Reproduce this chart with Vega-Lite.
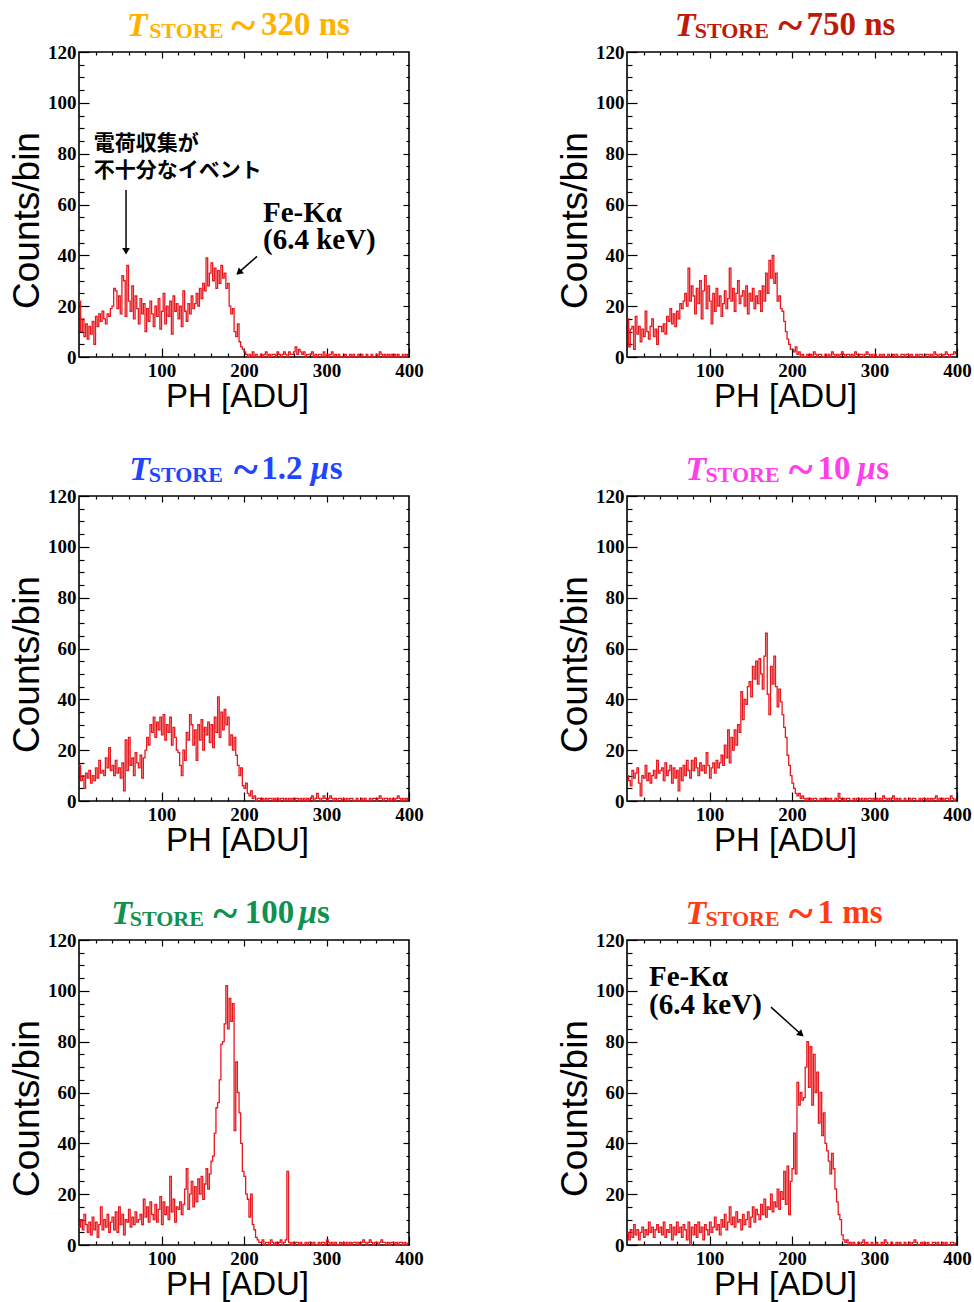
{
"$schema": "https://vega.github.io/schema/vega-lite/v6.json",
"background": "white",
"padding": {"left": 7, "top": 3, "right": 5, "bottom": 5},
"columns": 2,
"spacing": {"row": 139, "column": 218},
"bounds": "flush",
"config": {
 "view": {"stroke": "black", "strokeWidth": 1.6},
 "axis": {"domain": false, "grid": false, "labelFont": "Liberation Serif", "labelFontWeight": "bold", "labelFontSize": 19, "labelColor": "black", "labelFlush": false, "labelOverlap": false, "titleFont": "Liberation Sans", "titleFontWeight": "normal", "titleFontSize": 37, "titleColor": "black", "tickColor": "black", "tickWidth": 1.2},
 "axisBottom": {"titleFontSize": 33}
},
"datasets": {"h": [
{"x":0,"a":22,"b":15,"c":14,"d":10,"e":7,"f":5},
{"x":2,"a":10,"b":4,"c":8,"d":8,"e":10,"f":2},
{"x":4,"a":15,"b":11,"c":10,"d":6,"e":6,"f":6},
{"x":6,"a":8,"b":12,"c":5,"d":12,"e":12,"f":3},
{"x":8,"a":13,"b":3,"c":11,"d":9,"e":8,"f":8},
{"x":10,"a":7,"b":16,"c":9,"d":11,"e":5,"f":4},
{"x":12,"a":12,"b":9,"c":12,"d":13,"e":9,"f":6},
{"x":14,"a":9,"b":12,"c":7,"d":7,"e":4,"f":2},
{"x":16,"a":14,"b":6,"c":10,"d":2,"e":11,"f":5},
{"x":18,"a":5,"b":11,"c":8,"d":10,"e":6,"f":7},
{"x":20,"a":16,"b":8,"c":13,"d":9,"e":9,"f":3},
{"x":22,"a":12,"b":18,"c":9,"d":14,"e":3,"f":6},
{"x":24,"a":17,"b":10,"c":16,"d":8,"e":8,"f":4},
{"x":26,"a":14,"b":7,"c":11,"d":11,"e":15,"f":9},
{"x":28,"a":18,"b":12,"c":12,"d":7,"e":6,"f":5},
{"x":30,"a":15,"b":15,"c":10,"d":10,"e":10,"f":7},
{"x":32,"a":13,"b":8,"c":17,"d":12,"e":7,"f":3},
{"x":34,"a":17,"b":11,"c":13,"d":9,"e":12,"f":6},
{"x":36,"a":16,"b":5,"c":21,"d":16,"e":5,"f":8},
{"x":38,"a":19,"b":12,"c":12,"d":11,"e":9,"f":5},
{"x":40,"a":20,"b":12,"c":14,"d":12,"e":11,"f":7},
{"x":42,"a":27,"b":10,"c":10,"d":13,"e":6,"f":4},
{"x":44,"a":26,"b":13,"c":16,"d":8,"e":13,"f":9},
{"x":46,"a":19,"b":9,"c":11,"d":15,"e":5,"f":3},
{"x":48,"a":24,"b":16,"c":13,"d":10,"e":15,"f":6},
{"x":50,"a":17,"b":14,"c":9,"d":12,"e":8,"f":5},
{"x":52,"a":32,"b":19,"c":15,"d":14,"e":12,"f":8},
{"x":54,"a":30,"b":13,"c":4,"d":7,"e":4,"f":2},
{"x":56,"a":16,"b":17,"c":24,"d":13,"e":10,"f":7},
{"x":58,"a":36,"b":12,"c":12,"d":9,"e":9,"f":4},
{"x":60,"a":22,"b":18,"c":25,"d":12,"e":14,"f":9},
{"x":62,"a":18,"b":15,"c":14,"d":4,"e":7,"f":5},
{"x":64,"a":28,"b":21,"c":17,"d":13,"e":11,"f":7},
{"x":66,"a":15,"b":19,"c":10,"d":8,"e":8,"f":3},
{"x":68,"a":24,"b":22,"c":19,"d":14,"e":13,"f":8},
{"x":70,"a":19,"b":25,"c":15,"d":10,"e":9,"f":6},
{"x":72,"a":13,"b":20,"c":13,"d":16,"e":10,"f":2},
{"x":74,"a":23,"b":35,"c":18,"d":12,"e":12,"f":9},
{"x":76,"a":17,"b":22,"c":9,"d":9,"e":8,"f":0},
{"x":78,"a":21,"b":28,"c":17,"d":16,"e":18,"f":7},
{"x":80,"a":10,"b":24,"c":20,"d":12,"e":11,"f":4},
{"x":82,"a":19,"b":17,"c":25,"d":17,"e":15,"f":8},
{"x":84,"a":14,"b":27,"c":22,"d":13,"e":9,"f":3},
{"x":86,"a":22,"b":21,"c":30,"d":10,"e":17,"f":9},
{"x":88,"a":17,"b":30,"c":27,"d":15,"e":12,"f":5},
{"x":90,"a":12,"b":15,"c":33,"d":12,"e":10,"f":7},
{"x":92,"a":20,"b":26,"c":25,"d":14,"e":16,"f":2},
{"x":94,"a":16,"b":32,"c":31,"d":11,"e":9,"f":8},
{"x":96,"a":23,"b":19,"c":28,"d":19,"e":14,"f":6},
{"x":98,"a":11,"b":28,"c":33,"d":14,"e":19,"f":4},
{"x":100,"a":18,"b":22,"c":26,"d":9,"e":8,"f":9},
{"x":102,"a":25,"b":13,"c":34,"d":13,"e":17,"f":5},
{"x":104,"a":13,"b":25,"c":24,"d":15,"e":12,"f":7},
{"x":106,"a":20,"b":18,"c":30,"d":11,"e":15,"f":11},
{"x":108,"a":16,"b":27,"c":27,"d":16,"e":10,"f":6},
{"x":110,"a":22,"b":20,"c":33,"d":13,"e":27,"f":8},
{"x":112,"a":9,"b":24,"c":22,"d":15,"e":13,"f":4},
{"x":114,"a":24,"b":16,"c":29,"d":18,"e":18,"f":10},
{"x":116,"a":18,"b":21,"c":25,"d":14,"e":9,"f":7},
{"x":118,"a":21,"b":26,"c":20,"d":22,"e":15,"f":12},
{"x":120,"a":15,"b":19,"c":19,"d":17,"e":14,"f":6},
{"x":122,"a":20,"b":23,"c":14,"d":28,"e":17,"f":9},
{"x":124,"a":12,"b":35,"c":10,"d":15,"e":12,"f":15},
{"x":126,"a":26,"b":22,"c":20,"d":25,"e":16,"f":8},
{"x":128,"a":18,"b":27,"c":16,"d":20,"e":22,"f":11},
{"x":130,"a":14,"b":18,"c":27,"d":28,"e":30,"f":7},
{"x":132,"a":21,"b":25,"c":24,"d":22,"e":14,"f":13},
{"x":134,"a":17,"b":30,"c":34,"d":30,"e":20,"f":9},
{"x":136,"a":24,"b":21,"c":30,"d":27,"e":25,"f":10},
{"x":138,"a":19,"b":24,"c":22,"d":43,"e":15,"f":6},
{"x":140,"a":21,"b":26,"c":28,"d":32,"e":23,"f":12},
{"x":142,"a":25,"b":20,"c":16,"d":40,"e":17,"f":8},
{"x":144,"a":20,"b":28,"c":30,"d":38,"e":26,"f":10},
{"x":146,"a":27,"b":17,"c":24,"d":45,"e":20,"f":13},
{"x":148,"a":23,"b":25,"c":32,"d":47,"e":27,"f":7},
{"x":150,"a":29,"b":22,"c":20,"d":41,"e":18,"f":11},
{"x":152,"a":26,"b":27,"c":29,"d":53,"e":24,"f":15},
{"x":154,"a":39,"b":19,"c":26,"d":48,"e":30,"f":9},
{"x":156,"a":28,"b":24,"c":31,"d":55,"e":22,"f":14},
{"x":158,"a":33,"b":21,"c":23,"d":46,"e":28,"f":12},
{"x":160,"a":37,"b":26,"c":30,"d":56,"e":33,"f":10},
{"x":162,"a":30,"b":18,"c":21,"d":50,"e":35,"f":16},
{"x":164,"a":35,"b":28,"c":33,"d":44,"e":44,"f":12},
{"x":166,"a":27,"b":22,"c":27,"d":57,"e":54,"f":18},
{"x":168,"a":34,"b":33,"c":41,"d":66,"e":56,"f":11},
{"x":170,"a":29,"b":25,"c":25,"d":42,"e":65,"f":15},
{"x":172,"a":36,"b":38,"c":35,"d":34,"e":79,"f":14},
{"x":174,"a":31,"b":31,"c":28,"d":53,"e":80,"f":20},
{"x":176,"a":33,"b":40,"c":36,"d":46,"e":87,"f":13},
{"x":178,"a":27,"b":29,"c":30,"d":57,"e":102,"f":17},
{"x":180,"a":29,"b":33,"c":33,"d":45,"e":85,"f":15},
{"x":182,"a":20,"b":22,"c":22,"d":37,"e":97,"f":22},
{"x":184,"a":17,"b":24,"c":26,"d":44,"e":88,"f":14},
{"x":186,"a":19,"b":19,"c":20,"d":39,"e":95,"f":21},
{"x":188,"a":10,"b":18,"c":25,"d":34,"e":45,"f":18},
{"x":190,"a":8,"b":14,"c":18,"d":29,"e":72,"f":29},
{"x":192,"a":13,"b":10,"c":14,"d":25,"e":60,"f":16},
{"x":194,"a":6,"b":7,"c":10,"d":18,"e":52,"f":31},
{"x":196,"a":4,"b":5,"c":13,"d":14,"e":40,"f":12},
{"x":198,"a":3,"b":3,"c":6,"d":10,"e":29,"f":25},
{"x":200,"a":2,"b":3,"c":5,"d":7,"e":27,"f":30},
{"x":202,"a":1,"b":2,"c":7,"d":5,"e":20,"f":44},
{"x":204,"a":0,"b":4,"c":3,"d":3,"e":18,"f":28},
{"x":206,"a":1,"b":1,"c":2,"d":2,"e":11,"f":64},
{"x":208,"a":0,"b":2,"c":4,"d":3,"e":20,"f":55},
{"x":210,"a":2,"b":0,"c":1,"d":1,"e":8,"f":60},
{"x":212,"a":0,"b":1,"c":2,"d":2,"e":6,"f":57},
{"x":214,"a":1,"b":0,"c":0,"d":1,"e":3,"f":58},
{"x":216,"a":0,"b":0,"c":1,"d":0,"e":2,"f":70},
{"x":218,"a":0,"b":1,"c":1,"d":1,"e":1,"f":80},
{"x":220,"a":1,"b":0,"c":0,"d":0,"e":1,"f":62},
{"x":222,"a":0,"b":1,"c":1,"d":1,"e":2,"f":78},
{"x":224,"a":1,"b":0,"c":0,"d":0,"e":0,"f":55},
{"x":226,"a":2,"b":2,"c":1,"d":1,"e":1,"f":75},
{"x":228,"a":0,"b":1,"c":0,"d":1,"e":1,"f":60},
{"x":230,"a":1,"b":0,"c":1,"d":0,"e":0,"f":68},
{"x":232,"a":0,"b":1,"c":1,"d":0,"e":2,"f":48},
{"x":234,"a":1,"b":1,"c":0,"d":1,"e":1,"f":60},
{"x":236,"a":1,"b":0,"c":1,"d":0,"e":0,"f":43},
{"x":238,"a":0,"b":0,"c":0,"d":1,"e":1,"f":52},
{"x":240,"a":2,"b":1,"c":1,"d":0,"e":0,"f":40},
{"x":242,"a":1,"b":0,"c":0,"d":1,"e":1,"f":37},
{"x":244,"a":0,"b":1,"c":1,"d":0,"e":2,"f":33},
{"x":246,"a":1,"b":0,"c":1,"d":1,"e":0,"f":28},
{"x":248,"a":2,"b":2,"c":0,"d":0,"e":1,"f":36},
{"x":250,"a":1,"b":1,"c":1,"d":0,"e":2,"f":30},
{"x":252,"a":0,"b":0,"c":0,"d":1,"e":29,"f":22},
{"x":254,"a":2,"b":1,"c":1,"d":0,"e":1,"f":17},
{"x":256,"a":1,"b":0,"c":0,"d":3,"e":0,"f":12},
{"x":258,"a":1,"b":1,"c":1,"d":1,"e":1,"f":10},
{"x":260,"a":2,"b":2,"c":0,"d":0,"e":0,"f":4},
{"x":262,"a":4,"b":1,"c":1,"d":1,"e":1,"f":2},
{"x":264,"a":1,"b":0,"c":1,"d":0,"e":1,"f":1},
{"x":266,"a":3,"b":1,"c":0,"d":1,"e":0,"f":2},
{"x":268,"a":2,"b":1,"c":1,"d":1,"e":1,"f":0},
{"x":270,"a":1,"b":0,"c":0,"d":0,"e":0,"f":1},
{"x":272,"a":2,"b":1,"c":1,"d":0,"e":0,"f":0},
{"x":274,"a":0,"b":0,"c":0,"d":1,"e":1,"f":1},
{"x":276,"a":1,"b":2,"c":1,"d":0,"e":0,"f":0},
{"x":278,"a":1,"b":1,"c":0,"d":1,"e":1,"f":0},
{"x":280,"a":1,"b":0,"c":1,"d":1,"e":1,"f":1},
{"x":282,"a":2,"b":1,"c":2,"d":0,"e":0,"f":0},
{"x":284,"a":0,"b":1,"c":0,"d":1,"e":1,"f":1},
{"x":286,"a":1,"b":0,"c":1,"d":0,"e":0,"f":2},
{"x":288,"a":0,"b":1,"c":3,"d":1,"e":0,"f":0},
{"x":290,"a":1,"b":2,"c":1,"d":0,"e":1,"f":1},
{"x":292,"a":1,"b":1,"c":0,"d":1,"e":0,"f":0},
{"x":294,"a":0,"b":0,"c":1,"d":1,"e":1,"f":0},
{"x":296,"a":2,"b":1,"c":2,"d":0,"e":1,"f":1},
{"x":298,"a":0,"b":0,"c":1,"d":1,"e":0,"f":0},
{"x":300,"a":1,"b":1,"c":0,"d":0,"e":2,"f":0},
{"x":302,"a":0,"b":0,"c":1,"d":1,"e":1,"f":1},
{"x":304,"a":1,"b":0,"c":2,"d":0,"e":0,"f":0},
{"x":306,"a":2,"b":1,"c":1,"d":1,"e":1,"f":0},
{"x":308,"a":0,"b":0,"c":0,"d":0,"e":0,"f":1},
{"x":310,"a":1,"b":1,"c":1,"d":2,"e":1,"f":0},
{"x":312,"a":0,"b":0,"c":0,"d":1,"e":0,"f":2},
{"x":314,"a":1,"b":0,"c":1,"d":0,"e":0,"f":1},
{"x":316,"a":0,"b":1,"c":1,"d":1,"e":1,"f":0},
{"x":318,"a":0,"b":0,"c":0,"d":0,"e":0,"f":0},
{"x":320,"a":0,"b":0,"c":1,"d":1,"e":1,"f":1},
{"x":322,"a":1,"b":1,"c":0,"d":2,"e":0,"f":0},
{"x":324,"a":0,"b":0,"c":1,"d":0,"e":1,"f":0},
{"x":326,"a":0,"b":1,"c":0,"d":1,"e":0,"f":1},
{"x":328,"a":1,"b":0,"c":1,"d":0,"e":1,"f":0},
{"x":330,"a":0,"b":0,"c":1,"d":1,"e":0,"f":1},
{"x":332,"a":1,"b":1,"c":0,"d":0,"e":1,"f":0},
{"x":334,"a":0,"b":1,"c":0,"d":0,"e":1,"f":0},
{"x":336,"a":0,"b":0,"c":1,"d":1,"e":0,"f":1},
{"x":338,"a":1,"b":1,"c":0,"d":0,"e":1,"f":0},
{"x":340,"a":0,"b":1,"c":0,"d":0,"e":0,"f":0},
{"x":342,"a":1,"b":0,"c":1,"d":1,"e":1,"f":1},
{"x":344,"a":0,"b":1,"c":0,"d":0,"e":2,"f":0},
{"x":346,"a":0,"b":0,"c":1,"d":1,"e":1,"f":1},
{"x":348,"a":1,"b":0,"c":0,"d":1,"e":0,"f":2},
{"x":350,"a":0,"b":1,"c":0,"d":0,"e":1,"f":1},
{"x":352,"a":0,"b":0,"c":1,"d":0,"e":2,"f":0},
{"x":354,"a":1,"b":1,"c":0,"d":1,"e":1,"f":0},
{"x":356,"a":0,"b":1,"c":1,"d":0,"e":0,"f":1},
{"x":358,"a":0,"b":0,"c":1,"d":1,"e":1,"f":0},
{"x":360,"a":1,"b":0,"c":0,"d":1,"e":1,"f":1},
{"x":362,"a":0,"b":1,"c":1,"d":0,"e":0,"f":0},
{"x":364,"a":2,"b":1,"c":2,"d":1,"e":1,"f":1},
{"x":366,"a":1,"b":0,"c":1,"d":0,"e":2,"f":0},
{"x":368,"a":0,"b":1,"c":0,"d":1,"e":1,"f":0},
{"x":370,"a":1,"b":0,"c":1,"d":0,"e":1,"f":1},
{"x":372,"a":0,"b":2,"c":1,"d":1,"e":0,"f":1},
{"x":374,"a":1,"b":1,"c":0,"d":2,"e":1,"f":0},
{"x":376,"a":0,"b":0,"c":1,"d":0,"e":0,"f":1},
{"x":378,"a":1,"b":1,"c":0,"d":1,"e":1,"f":0},
{"x":380,"a":0,"b":1,"c":1,"d":0,"e":1,"f":0},
{"x":382,"a":1,"b":0,"c":0,"d":1,"e":0,"f":1},
{"x":384,"a":0,"b":1,"c":1,"d":0,"e":1,"f":0},
{"x":386,"a":1,"b":2,"c":2,"d":1,"e":0,"f":1},
{"x":388,"a":0,"b":1,"c":1,"d":1,"e":1,"f":0},
{"x":390,"a":0,"b":0,"c":0,"d":0,"e":1,"f":0},
{"x":392,"a":1,"b":1,"c":1,"d":2,"e":0,"f":1},
{"x":394,"a":0,"b":1,"c":0,"d":1,"e":1,"f":1},
{"x":396,"a":1,"b":2,"c":1,"d":0,"e":0,"f":0},
{"x":398,"a":0,"b":1,"c":0,"d":1,"e":1,"f":1}
]},
"concat": [
 {"width": 330, "height": 305, "resolve": {"axis": {"x": "independent", "y": "independent"}},
  "layer": [
   {"data": {"name": "h"}, "mark": {"type": "line", "interpolate": "step-after", "color": "#E8181E", "strokeWidth": 1.3},
    "encoding": {
     "x": {"field": "x", "type": "quantitative", "scale": {"domain": [0, 400]}, "axis": {"orient": "bottom", "values": [100, 200, 300, 400], "tickSize": -9, "labelPadding": 13, "title": "PH [ADU]", "titleX": 158, "titlePadding": 0}},
     "y": {"field": "a", "type": "quantitative", "scale": {"domain": [0, 120]}, "axis": {"orient": "left", "values": [0, 20, 40, 60, 80, 100, 120], "tickSize": -10, "labelPadding": 13, "title": "Counts/bin", "titleY": 168, "titlePadding": 1}}}},
   {"data": {"name": "h"}, "mark": {"type": "line", "opacity": 0},
    "encoding": {
     "x": {"field": "x", "type": "quantitative", "axis": {"orient": "bottom", "values": [20, 40, 60, 80, 120, 140, 160, 180, 220, 240, 260, 280, 320, 340, 360, 380], "tickSize": -4, "labels": false, "title": null}},
     "y": {"field": "a", "type": "quantitative", "axis": {"orient": "left", "values": [5, 10, 15, 25, 30, 35, 45, 50, 55, 65, 70, 75, 85, 90, 95, 105, 110, 115], "tickSize": -5, "labels": false, "title": null}}}},
   {"data": {"name": "h"}, "mark": {"type": "line", "opacity": 0},
    "encoding": {
     "x": {"field": "x", "type": "quantitative", "axis": {"orient": "top", "values": [100, 200, 300], "tickSize": -6, "labels": false, "title": null}},
     "y": {"field": "a", "type": "quantitative", "axis": {"orient": "right", "values": [20, 40, 60, 80, 100], "tickSize": -6, "labels": false, "title": null}}}},
   {"data": {"name": "h"}, "mark": {"type": "line", "opacity": 0},
    "encoding": {
     "x": {"field": "x", "type": "quantitative", "axis": {"orient": "top", "values": [20, 40, 60, 80, 120, 140, 160, 180, 220, 240, 260, 280, 320, 340, 360, 380], "tickSize": -3, "labels": false, "title": null}},
     "y": {"field": "a", "type": "quantitative", "axis": {"orient": "right", "values": [5, 10, 15, 25, 30, 35, 45, 50, 55, 65, 70, 75, 85, 90, 95, 105, 110, 115], "tickSize": -3, "labels": false, "title": null}}}},
   {"data": {"values": [{}]}, "mark": {"type": "text", "font": "Liberation Serif", "fontWeight": "bold", "fontStyle": "italic", "fontSize": 34, "align": "left", "baseline": "alphabetic", "color": "#FFB300"},
    "encoding": {"x": {"datum": 58, "type": "quantitative", "axis": null}, "y": {"datum": 126.3, "type": "quantitative", "axis": null}, "text": {"value": "T"}}},
   {"data": {"values": [{}]}, "mark": {"type": "text", "font": "Liberation Serif", "fontWeight": "bold", "fontSize": 22, "align": "left", "baseline": "alphabetic", "color": "#FFB300"},
    "encoding": {"x": {"datum": 85, "type": "quantitative", "axis": null}, "y": {"datum": 125.4, "type": "quantitative", "axis": null}, "text": {"value": "STORE"}}},
   {"data": {"values": [{}]}, "mark": {"type": "text", "font": "Liberation Serif", "fontWeight": "bold", "fontSize": 46, "align": "left", "baseline": "alphabetic", "color": "#FFB300"},
    "encoding": {"x": {"datum": 184.5, "type": "quantitative", "axis": null}, "y": {"datum": 124.3, "type": "quantitative", "axis": null}, "text": {"value": "~"}}},
   {"data": {"values": [{}]}, "mark": {"type": "text", "font": "Liberation Serif", "fontWeight": "bold", "fontSize": 33, "align": "left", "baseline": "alphabetic", "color": "#FFB300"},
    "encoding": {"x": {"datum": 220.6, "type": "quantitative", "axis": null}, "y": {"datum": 126.6, "type": "quantitative", "axis": null}, "text": {"value": "320 ns"}}},
   {"data": {"values": [{}]}, "mark": {"type": "text", "font": "Noto Sans CJK JP", "fontWeight": "bold", "fontSize": 21, "lineHeight": 26.6, "align": "left", "baseline": "top", "color": "black"},
    "encoding": {"x": {"datum": 18, "type": "quantitative", "axis": null}, "y": {"datum": 88, "type": "quantitative", "axis": null}, "text": {"value": ["電荷収集が", "不十分なイベント"]}}},
   {"data": {"values": [{}]}, "mark": {"type": "rule", "color": "black", "strokeWidth": 1.5},
    "encoding": {"x": {"datum": 57, "type": "quantitative", "axis": null}, "y": {"datum": 65.7, "type": "quantitative", "axis": null}, "y2": {"datum": 41}}},
   {"data": {"values": [{}]}, "mark": {"type": "point", "shape": "triangle-down", "filled": true, "color": "black", "opacity": 1, "size": 60},
    "encoding": {"x": {"datum": 57, "type": "quantitative", "axis": null}, "y": {"datum": 41.6, "type": "quantitative", "axis": null}}},
   {"data": {"values": [{}]}, "mark": {"type": "text", "font": "Liberation Serif", "fontWeight": "bold", "fontSize": 29, "lineHeight": 27, "align": "left", "baseline": "top", "color": "black"},
    "encoding": {"x": {"datum": 223, "type": "quantitative", "axis": null}, "y": {"datum": 62, "type": "quantitative", "axis": null}, "text": {"value": ["Fe-Kα", "(6.4 keV)"]}}},
   {"data": {"values": [{}]}, "mark": {"type": "rule", "color": "black", "strokeWidth": 1.5},
    "encoding": {"x": {"datum": 215.8, "type": "quantitative", "axis": null}, "y": {"datum": 39.6, "type": "quantitative", "axis": null}, "x2": {"datum": 192}, "y2": {"datum": 32.8}}},
   {"data": {"values": [{}]}, "mark": {"type": "point", "shape": "triangle", "angle": 228, "filled": true, "color": "black", "opacity": 1, "size": 60},
    "encoding": {"x": {"datum": 194.8, "type": "quantitative", "axis": null}, "y": {"datum": 33.5, "type": "quantitative", "axis": null}}}
  ]},
 {"width": 330, "height": 305, "resolve": {"axis": {"x": "independent", "y": "independent"}},
  "layer": [
   {"data": {"name": "h"}, "mark": {"type": "line", "interpolate": "step-after", "color": "#E8181E", "strokeWidth": 1.3},
    "encoding": {
     "x": {"field": "x", "type": "quantitative", "scale": {"domain": [0, 400]}, "axis": {"orient": "bottom", "values": [100, 200, 300, 400], "tickSize": -9, "labelPadding": 13, "title": "PH [ADU]", "titleX": 158, "titlePadding": 0}},
     "y": {"field": "b", "type": "quantitative", "scale": {"domain": [0, 120]}, "axis": {"orient": "left", "values": [0, 20, 40, 60, 80, 100, 120], "tickSize": -10, "labelPadding": 13, "title": "Counts/bin", "titleY": 168, "titlePadding": 1}}}},
   {"data": {"name": "h"}, "mark": {"type": "line", "opacity": 0},
    "encoding": {
     "x": {"field": "x", "type": "quantitative", "axis": {"orient": "bottom", "values": [20, 40, 60, 80, 120, 140, 160, 180, 220, 240, 260, 280, 320, 340, 360, 380], "tickSize": -4, "labels": false, "title": null}},
     "y": {"field": "b", "type": "quantitative", "axis": {"orient": "left", "values": [5, 10, 15, 25, 30, 35, 45, 50, 55, 65, 70, 75, 85, 90, 95, 105, 110, 115], "tickSize": -5, "labels": false, "title": null}}}},
   {"data": {"name": "h"}, "mark": {"type": "line", "opacity": 0},
    "encoding": {
     "x": {"field": "x", "type": "quantitative", "axis": {"orient": "top", "values": [100, 200, 300], "tickSize": -6, "labels": false, "title": null}},
     "y": {"field": "b", "type": "quantitative", "axis": {"orient": "right", "values": [20, 40, 60, 80, 100], "tickSize": -6, "labels": false, "title": null}}}},
   {"data": {"name": "h"}, "mark": {"type": "line", "opacity": 0},
    "encoding": {
     "x": {"field": "x", "type": "quantitative", "axis": {"orient": "top", "values": [20, 40, 60, 80, 120, 140, 160, 180, 220, 240, 260, 280, 320, 340, 360, 380], "tickSize": -3, "labels": false, "title": null}},
     "y": {"field": "b", "type": "quantitative", "axis": {"orient": "right", "values": [5, 10, 15, 25, 30, 35, 45, 50, 55, 65, 70, 75, 85, 90, 95, 105, 110, 115], "tickSize": -3, "labels": false, "title": null}}}},
   {"data": {"values": [{}]}, "mark": {"type": "text", "font": "Liberation Serif", "fontWeight": "bold", "fontStyle": "italic", "fontSize": 34, "align": "left", "baseline": "alphabetic", "color": "#BE1A08"},
    "encoding": {"x": {"datum": 58, "type": "quantitative", "axis": null}, "y": {"datum": 126.3, "type": "quantitative", "axis": null}, "text": {"value": "T"}}},
   {"data": {"values": [{}]}, "mark": {"type": "text", "font": "Liberation Serif", "fontWeight": "bold", "fontSize": 22, "align": "left", "baseline": "alphabetic", "color": "#BE1A08"},
    "encoding": {"x": {"datum": 82, "type": "quantitative", "axis": null}, "y": {"datum": 125.4, "type": "quantitative", "axis": null}, "text": {"value": "STORE"}}},
   {"data": {"values": [{}]}, "mark": {"type": "text", "font": "Liberation Serif", "fontWeight": "bold", "fontSize": 46, "align": "left", "baseline": "alphabetic", "color": "#BE1A08"},
    "encoding": {"x": {"datum": 183.2, "type": "quantitative", "axis": null}, "y": {"datum": 124.3, "type": "quantitative", "axis": null}, "text": {"value": "~"}}},
   {"data": {"values": [{}]}, "mark": {"type": "text", "font": "Liberation Serif", "fontWeight": "bold", "fontSize": 33, "align": "left", "baseline": "alphabetic", "color": "#BE1A08"},
    "encoding": {"x": {"datum": 217.5, "type": "quantitative", "axis": null}, "y": {"datum": 126.6, "type": "quantitative", "axis": null}, "text": {"value": "750 ns"}}}
  ]},
 {"width": 330, "height": 305, "resolve": {"axis": {"x": "independent", "y": "independent"}},
  "layer": [
   {"data": {"name": "h"}, "mark": {"type": "line", "interpolate": "step-after", "color": "#E8181E", "strokeWidth": 1.3},
    "encoding": {
     "x": {"field": "x", "type": "quantitative", "scale": {"domain": [0, 400]}, "axis": {"orient": "bottom", "values": [100, 200, 300, 400], "tickSize": -9, "labelPadding": 13, "title": "PH [ADU]", "titleX": 158, "titlePadding": 0}},
     "y": {"field": "c", "type": "quantitative", "scale": {"domain": [0, 120]}, "axis": {"orient": "left", "values": [0, 20, 40, 60, 80, 100, 120], "tickSize": -10, "labelPadding": 13, "title": "Counts/bin", "titleY": 168, "titlePadding": 1}}}},
   {"data": {"name": "h"}, "mark": {"type": "line", "opacity": 0},
    "encoding": {
     "x": {"field": "x", "type": "quantitative", "axis": {"orient": "bottom", "values": [20, 40, 60, 80, 120, 140, 160, 180, 220, 240, 260, 280, 320, 340, 360, 380], "tickSize": -4, "labels": false, "title": null}},
     "y": {"field": "c", "type": "quantitative", "axis": {"orient": "left", "values": [5, 10, 15, 25, 30, 35, 45, 50, 55, 65, 70, 75, 85, 90, 95, 105, 110, 115], "tickSize": -5, "labels": false, "title": null}}}},
   {"data": {"name": "h"}, "mark": {"type": "line", "opacity": 0},
    "encoding": {
     "x": {"field": "x", "type": "quantitative", "axis": {"orient": "top", "values": [100, 200, 300], "tickSize": -6, "labels": false, "title": null}},
     "y": {"field": "c", "type": "quantitative", "axis": {"orient": "right", "values": [20, 40, 60, 80, 100], "tickSize": -6, "labels": false, "title": null}}}},
   {"data": {"name": "h"}, "mark": {"type": "line", "opacity": 0},
    "encoding": {
     "x": {"field": "x", "type": "quantitative", "axis": {"orient": "top", "values": [20, 40, 60, 80, 120, 140, 160, 180, 220, 240, 260, 280, 320, 340, 360, 380], "tickSize": -3, "labels": false, "title": null}},
     "y": {"field": "c", "type": "quantitative", "axis": {"orient": "right", "values": [5, 10, 15, 25, 30, 35, 45, 50, 55, 65, 70, 75, 85, 90, 95, 105, 110, 115], "tickSize": -3, "labels": false, "title": null}}}},
   {"data": {"values": [{}]}, "mark": {"type": "text", "font": "Liberation Serif", "fontWeight": "bold", "fontStyle": "italic", "fontSize": 34, "align": "left", "baseline": "alphabetic", "color": "#1E46FF"},
    "encoding": {"x": {"datum": 61, "type": "quantitative", "axis": null}, "y": {"datum": 126.3, "type": "quantitative", "axis": null}, "text": {"value": "T"}}},
   {"data": {"values": [{}]}, "mark": {"type": "text", "font": "Liberation Serif", "fontWeight": "bold", "fontSize": 22, "align": "left", "baseline": "alphabetic", "color": "#1E46FF"},
    "encoding": {"x": {"datum": 84.5, "type": "quantitative", "axis": null}, "y": {"datum": 125.4, "type": "quantitative", "axis": null}, "text": {"value": "STORE"}}},
   {"data": {"values": [{}]}, "mark": {"type": "text", "font": "Liberation Serif", "fontWeight": "bold", "fontSize": 46, "align": "left", "baseline": "alphabetic", "color": "#1E46FF"},
    "encoding": {"x": {"datum": 187.7, "type": "quantitative", "axis": null}, "y": {"datum": 124.3, "type": "quantitative", "axis": null}, "text": {"value": "~"}}},
   {"data": {"values": [{}]}, "mark": {"type": "text", "font": "Liberation Serif", "fontWeight": "bold", "fontSize": 33, "align": "left", "baseline": "alphabetic", "color": "#1E46FF"},
    "encoding": {"x": {"datum": 221, "type": "quantitative", "axis": null}, "y": {"datum": 126.6, "type": "quantitative", "axis": null}, "text": {"value": "1.2"}}},
   {"data": {"values": [{}]}, "mark": {"type": "text", "font": "Liberation Serif", "fontWeight": "bold", "fontStyle": "italic", "fontSize": 33, "align": "left", "baseline": "alphabetic", "color": "#1E46FF"},
    "encoding": {"x": {"datum": 281, "type": "quantitative", "axis": null}, "y": {"datum": 126.6, "type": "quantitative", "axis": null}, "text": {"value": "μ"}}},
   {"data": {"values": [{}]}, "mark": {"type": "text", "font": "Liberation Serif", "fontWeight": "bold", "fontSize": 33, "align": "left", "baseline": "alphabetic", "color": "#1E46FF"},
    "encoding": {"x": {"datum": 304, "type": "quantitative", "axis": null}, "y": {"datum": 126.6, "type": "quantitative", "axis": null}, "text": {"value": "s"}}}
  ]},
 {"width": 330, "height": 305, "resolve": {"axis": {"x": "independent", "y": "independent"}},
  "layer": [
   {"data": {"name": "h"}, "mark": {"type": "line", "interpolate": "step-after", "color": "#E8181E", "strokeWidth": 1.3},
    "encoding": {
     "x": {"field": "x", "type": "quantitative", "scale": {"domain": [0, 400]}, "axis": {"orient": "bottom", "values": [100, 200, 300, 400], "tickSize": -9, "labelPadding": 13, "title": "PH [ADU]", "titleX": 158, "titlePadding": 0}},
     "y": {"field": "d", "type": "quantitative", "scale": {"domain": [0, 120]}, "axis": {"orient": "left", "values": [0, 20, 40, 60, 80, 100, 120], "tickSize": -10, "labelPadding": 13, "title": "Counts/bin", "titleY": 168, "titlePadding": 1}}}},
   {"data": {"name": "h"}, "mark": {"type": "line", "opacity": 0},
    "encoding": {
     "x": {"field": "x", "type": "quantitative", "axis": {"orient": "bottom", "values": [20, 40, 60, 80, 120, 140, 160, 180, 220, 240, 260, 280, 320, 340, 360, 380], "tickSize": -4, "labels": false, "title": null}},
     "y": {"field": "d", "type": "quantitative", "axis": {"orient": "left", "values": [5, 10, 15, 25, 30, 35, 45, 50, 55, 65, 70, 75, 85, 90, 95, 105, 110, 115], "tickSize": -5, "labels": false, "title": null}}}},
   {"data": {"name": "h"}, "mark": {"type": "line", "opacity": 0},
    "encoding": {
     "x": {"field": "x", "type": "quantitative", "axis": {"orient": "top", "values": [100, 200, 300], "tickSize": -6, "labels": false, "title": null}},
     "y": {"field": "d", "type": "quantitative", "axis": {"orient": "right", "values": [20, 40, 60, 80, 100], "tickSize": -6, "labels": false, "title": null}}}},
   {"data": {"name": "h"}, "mark": {"type": "line", "opacity": 0},
    "encoding": {
     "x": {"field": "x", "type": "quantitative", "axis": {"orient": "top", "values": [20, 40, 60, 80, 120, 140, 160, 180, 220, 240, 260, 280, 320, 340, 360, 380], "tickSize": -3, "labels": false, "title": null}},
     "y": {"field": "d", "type": "quantitative", "axis": {"orient": "right", "values": [5, 10, 15, 25, 30, 35, 45, 50, 55, 65, 70, 75, 85, 90, 95, 105, 110, 115], "tickSize": -3, "labels": false, "title": null}}}},
   {"data": {"values": [{}]}, "mark": {"type": "text", "font": "Liberation Serif", "fontWeight": "bold", "fontStyle": "italic", "fontSize": 34, "align": "left", "baseline": "alphabetic", "color": "#FF40E8"},
    "encoding": {"x": {"datum": 71, "type": "quantitative", "axis": null}, "y": {"datum": 126.3, "type": "quantitative", "axis": null}, "text": {"value": "T"}}},
   {"data": {"values": [{}]}, "mark": {"type": "text", "font": "Liberation Serif", "fontWeight": "bold", "fontSize": 22, "align": "left", "baseline": "alphabetic", "color": "#FF40E8"},
    "encoding": {"x": {"datum": 95, "type": "quantitative", "axis": null}, "y": {"datum": 125.4, "type": "quantitative", "axis": null}, "text": {"value": "STORE"}}},
   {"data": {"values": [{}]}, "mark": {"type": "text", "font": "Liberation Serif", "fontWeight": "bold", "fontSize": 46, "align": "left", "baseline": "alphabetic", "color": "#FF40E8"},
    "encoding": {"x": {"datum": 196, "type": "quantitative", "axis": null}, "y": {"datum": 124.3, "type": "quantitative", "axis": null}, "text": {"value": "~"}}},
   {"data": {"values": [{}]}, "mark": {"type": "text", "font": "Liberation Serif", "fontWeight": "bold", "fontSize": 33, "align": "left", "baseline": "alphabetic", "color": "#FF40E8"},
    "encoding": {"x": {"datum": 231, "type": "quantitative", "axis": null}, "y": {"datum": 126.6, "type": "quantitative", "axis": null}, "text": {"value": "10"}}},
   {"data": {"values": [{}]}, "mark": {"type": "text", "font": "Liberation Serif", "fontWeight": "bold", "fontStyle": "italic", "fontSize": 33, "align": "left", "baseline": "alphabetic", "color": "#FF40E8"},
    "encoding": {"x": {"datum": 279.5, "type": "quantitative", "axis": null}, "y": {"datum": 126.6, "type": "quantitative", "axis": null}, "text": {"value": "μ"}}},
   {"data": {"values": [{}]}, "mark": {"type": "text", "font": "Liberation Serif", "fontWeight": "bold", "fontSize": 33, "align": "left", "baseline": "alphabetic", "color": "#FF40E8"},
    "encoding": {"x": {"datum": 302, "type": "quantitative", "axis": null}, "y": {"datum": 126.6, "type": "quantitative", "axis": null}, "text": {"value": "s"}}}
  ]},
 {"width": 330, "height": 305, "resolve": {"axis": {"x": "independent", "y": "independent"}},
  "layer": [
   {"data": {"name": "h"}, "mark": {"type": "line", "interpolate": "step-after", "color": "#E8181E", "strokeWidth": 1.3},
    "encoding": {
     "x": {"field": "x", "type": "quantitative", "scale": {"domain": [0, 400]}, "axis": {"orient": "bottom", "values": [100, 200, 300, 400], "tickSize": -9, "labelPadding": 13, "title": "PH [ADU]", "titleX": 158, "titlePadding": 0}},
     "y": {"field": "e", "type": "quantitative", "scale": {"domain": [0, 120]}, "axis": {"orient": "left", "values": [0, 20, 40, 60, 80, 100, 120], "tickSize": -10, "labelPadding": 13, "title": "Counts/bin", "titleY": 168, "titlePadding": 1}}}},
   {"data": {"name": "h"}, "mark": {"type": "line", "opacity": 0},
    "encoding": {
     "x": {"field": "x", "type": "quantitative", "axis": {"orient": "bottom", "values": [20, 40, 60, 80, 120, 140, 160, 180, 220, 240, 260, 280, 320, 340, 360, 380], "tickSize": -4, "labels": false, "title": null}},
     "y": {"field": "e", "type": "quantitative", "axis": {"orient": "left", "values": [5, 10, 15, 25, 30, 35, 45, 50, 55, 65, 70, 75, 85, 90, 95, 105, 110, 115], "tickSize": -5, "labels": false, "title": null}}}},
   {"data": {"name": "h"}, "mark": {"type": "line", "opacity": 0},
    "encoding": {
     "x": {"field": "x", "type": "quantitative", "axis": {"orient": "top", "values": [100, 200, 300], "tickSize": -6, "labels": false, "title": null}},
     "y": {"field": "e", "type": "quantitative", "axis": {"orient": "right", "values": [20, 40, 60, 80, 100], "tickSize": -6, "labels": false, "title": null}}}},
   {"data": {"name": "h"}, "mark": {"type": "line", "opacity": 0},
    "encoding": {
     "x": {"field": "x", "type": "quantitative", "axis": {"orient": "top", "values": [20, 40, 60, 80, 120, 140, 160, 180, 220, 240, 260, 280, 320, 340, 360, 380], "tickSize": -3, "labels": false, "title": null}},
     "y": {"field": "e", "type": "quantitative", "axis": {"orient": "right", "values": [5, 10, 15, 25, 30, 35, 45, 50, 55, 65, 70, 75, 85, 90, 95, 105, 110, 115], "tickSize": -3, "labels": false, "title": null}}}},
   {"data": {"values": [{}]}, "mark": {"type": "text", "font": "Liberation Serif", "fontWeight": "bold", "fontStyle": "italic", "fontSize": 34, "align": "left", "baseline": "alphabetic", "color": "#0F9150"},
    "encoding": {"x": {"datum": 39, "type": "quantitative", "axis": null}, "y": {"datum": 126.3, "type": "quantitative", "axis": null}, "text": {"value": "T"}}},
   {"data": {"values": [{}]}, "mark": {"type": "text", "font": "Liberation Serif", "fontWeight": "bold", "fontSize": 22, "align": "left", "baseline": "alphabetic", "color": "#0F9150"},
    "encoding": {"x": {"datum": 61.5, "type": "quantitative", "axis": null}, "y": {"datum": 125.4, "type": "quantitative", "axis": null}, "text": {"value": "STORE"}}},
   {"data": {"values": [{}]}, "mark": {"type": "text", "font": "Liberation Serif", "fontWeight": "bold", "fontSize": 46, "align": "left", "baseline": "alphabetic", "color": "#0F9150"},
    "encoding": {"x": {"datum": 162.6, "type": "quantitative", "axis": null}, "y": {"datum": 124.3, "type": "quantitative", "axis": null}, "text": {"value": "~"}}},
   {"data": {"values": [{}]}, "mark": {"type": "text", "font": "Liberation Serif", "fontWeight": "bold", "fontSize": 33, "align": "left", "baseline": "alphabetic", "color": "#0F9150"},
    "encoding": {"x": {"datum": 200.8, "type": "quantitative", "axis": null}, "y": {"datum": 126.6, "type": "quantitative", "axis": null}, "text": {"value": "100"}}},
   {"data": {"values": [{}]}, "mark": {"type": "text", "font": "Liberation Serif", "fontWeight": "bold", "fontStyle": "italic", "fontSize": 33, "align": "left", "baseline": "alphabetic", "color": "#0F9150"},
    "encoding": {"x": {"datum": 266.5, "type": "quantitative", "axis": null}, "y": {"datum": 126.6, "type": "quantitative", "axis": null}, "text": {"value": "μ"}}},
   {"data": {"values": [{}]}, "mark": {"type": "text", "font": "Liberation Serif", "fontWeight": "bold", "fontSize": 33, "align": "left", "baseline": "alphabetic", "color": "#0F9150"},
    "encoding": {"x": {"datum": 288.6, "type": "quantitative", "axis": null}, "y": {"datum": 126.6, "type": "quantitative", "axis": null}, "text": {"value": "s"}}}
  ]},
 {"width": 330, "height": 305, "resolve": {"axis": {"x": "independent", "y": "independent"}},
  "layer": [
   {"data": {"name": "h"}, "mark": {"type": "line", "interpolate": "step-after", "color": "#E8181E", "strokeWidth": 1.3},
    "encoding": {
     "x": {"field": "x", "type": "quantitative", "scale": {"domain": [0, 400]}, "axis": {"orient": "bottom", "values": [100, 200, 300, 400], "tickSize": -9, "labelPadding": 13, "title": "PH [ADU]", "titleX": 158, "titlePadding": 0}},
     "y": {"field": "f", "type": "quantitative", "scale": {"domain": [0, 120]}, "axis": {"orient": "left", "values": [0, 20, 40, 60, 80, 100, 120], "tickSize": -10, "labelPadding": 13, "title": "Counts/bin", "titleY": 168, "titlePadding": 1}}}},
   {"data": {"name": "h"}, "mark": {"type": "line", "opacity": 0},
    "encoding": {
     "x": {"field": "x", "type": "quantitative", "axis": {"orient": "bottom", "values": [20, 40, 60, 80, 120, 140, 160, 180, 220, 240, 260, 280, 320, 340, 360, 380], "tickSize": -4, "labels": false, "title": null}},
     "y": {"field": "f", "type": "quantitative", "axis": {"orient": "left", "values": [5, 10, 15, 25, 30, 35, 45, 50, 55, 65, 70, 75, 85, 90, 95, 105, 110, 115], "tickSize": -5, "labels": false, "title": null}}}},
   {"data": {"name": "h"}, "mark": {"type": "line", "opacity": 0},
    "encoding": {
     "x": {"field": "x", "type": "quantitative", "axis": {"orient": "top", "values": [100, 200, 300], "tickSize": -6, "labels": false, "title": null}},
     "y": {"field": "f", "type": "quantitative", "axis": {"orient": "right", "values": [20, 40, 60, 80, 100], "tickSize": -6, "labels": false, "title": null}}}},
   {"data": {"name": "h"}, "mark": {"type": "line", "opacity": 0},
    "encoding": {
     "x": {"field": "x", "type": "quantitative", "axis": {"orient": "top", "values": [20, 40, 60, 80, 120, 140, 160, 180, 220, 240, 260, 280, 320, 340, 360, 380], "tickSize": -3, "labels": false, "title": null}},
     "y": {"field": "f", "type": "quantitative", "axis": {"orient": "right", "values": [5, 10, 15, 25, 30, 35, 45, 50, 55, 65, 70, 75, 85, 90, 95, 105, 110, 115], "tickSize": -3, "labels": false, "title": null}}}},
   {"data": {"values": [{}]}, "mark": {"type": "text", "font": "Liberation Serif", "fontWeight": "bold", "fontStyle": "italic", "fontSize": 34, "align": "left", "baseline": "alphabetic", "color": "#FF3C14"},
    "encoding": {"x": {"datum": 71, "type": "quantitative", "axis": null}, "y": {"datum": 126.3, "type": "quantitative", "axis": null}, "text": {"value": "T"}}},
   {"data": {"values": [{}]}, "mark": {"type": "text", "font": "Liberation Serif", "fontWeight": "bold", "fontSize": 22, "align": "left", "baseline": "alphabetic", "color": "#FF3C14"},
    "encoding": {"x": {"datum": 95, "type": "quantitative", "axis": null}, "y": {"datum": 125.4, "type": "quantitative", "axis": null}, "text": {"value": "STORE"}}},
   {"data": {"values": [{}]}, "mark": {"type": "text", "font": "Liberation Serif", "fontWeight": "bold", "fontSize": 46, "align": "left", "baseline": "alphabetic", "color": "#FF3C14"},
    "encoding": {"x": {"datum": 196, "type": "quantitative", "axis": null}, "y": {"datum": 124.3, "type": "quantitative", "axis": null}, "text": {"value": "~"}}},
   {"data": {"values": [{}]}, "mark": {"type": "text", "font": "Liberation Serif", "fontWeight": "bold", "fontSize": 33, "align": "left", "baseline": "alphabetic", "color": "#FF3C14"},
    "encoding": {"x": {"datum": 231, "type": "quantitative", "axis": null}, "y": {"datum": 126.6, "type": "quantitative", "axis": null}, "text": {"value": "1 ms"}}},
   {"data": {"values": [{}]}, "mark": {"type": "text", "font": "Liberation Serif", "fontWeight": "bold", "fontSize": 29, "lineHeight": 28, "align": "left", "baseline": "top", "color": "black"},
    "encoding": {"x": {"datum": 26.7, "type": "quantitative", "axis": null}, "y": {"datum": 111, "type": "quantitative", "axis": null}, "text": {"value": ["Fe-Kα", "(6.4 keV)"]}}},
   {"data": {"values": [{}]}, "mark": {"type": "rule", "color": "black", "strokeWidth": 1.5},
    "encoding": {"x": {"datum": 174.5, "type": "quantitative", "axis": null}, "y": {"datum": 93.6, "type": "quantitative", "axis": null}, "x2": {"datum": 212}, "y2": {"datum": 82.6}}},
   {"data": {"values": [{}]}, "mark": {"type": "point", "shape": "triangle", "angle": 132, "filled": true, "color": "black", "opacity": 1, "size": 60},
    "encoding": {"x": {"datum": 210, "type": "quantitative", "axis": null}, "y": {"datum": 83.2, "type": "quantitative", "axis": null}}}
  ]}
]
}
